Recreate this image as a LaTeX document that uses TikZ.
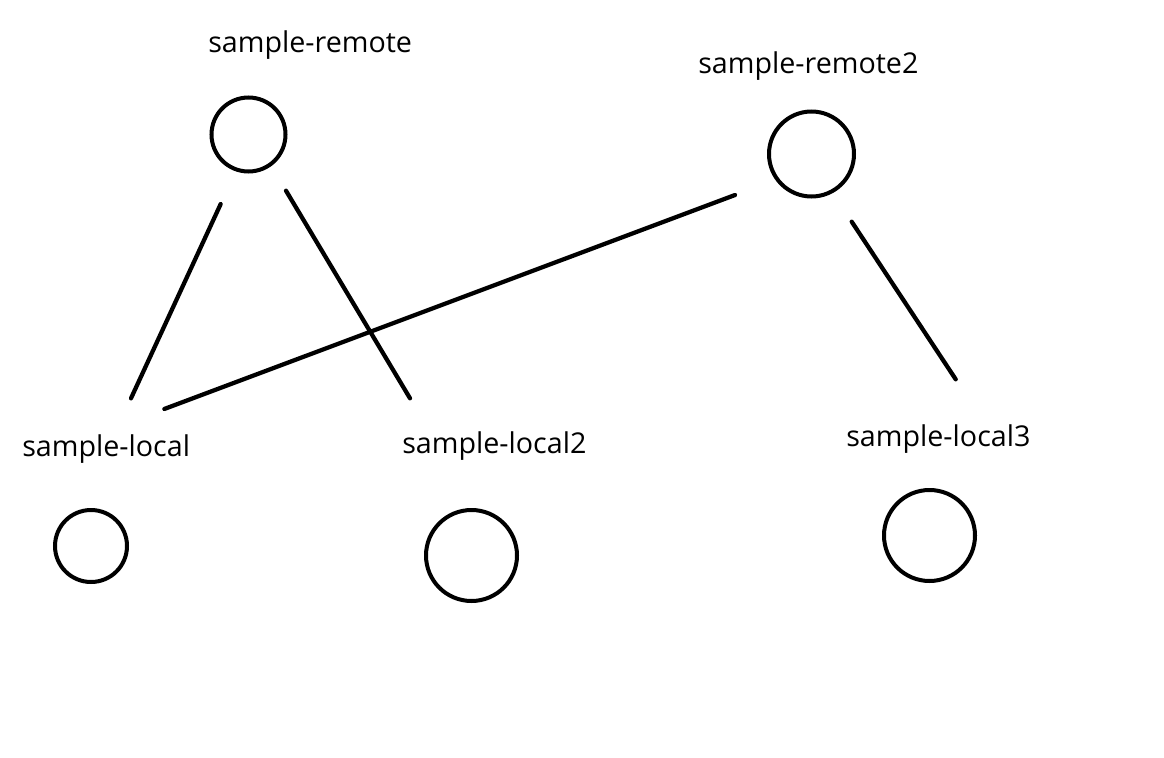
\documentclass[tikz,border=0pt]{standalone}
\usepackage{fontspec}
\setmainfont{Open Sans}
\usetikzlibrary{positioning}

\tikzset{
  host/.style={circle, draw, line width=3pt, inner sep=0pt},
  hostname/.style={anchor=base west, inner sep=0pt, font=\fontsize{21.5}{25}\selectfont},
  link/.style={line width=3.2pt, line cap=round},
}

\begin{document}
\begin{tikzpicture}[x=0.75pt, y=-0.75pt]
\useasboundingbox (0,0) rectangle (1164,757);
% Remote hosts
\node[host, minimum size=74pt*0.75] (remote) at (248.5,134.5) {};
\node[hostname] (remote-lbl) at (208,52) {sample-remote};
\node[host, minimum size=85pt*0.75] (remote2) at (811.5,154) {};
\node[hostname] (remote2-lbl) at (698,73) {sample-remote2};
% Local hosts
\node[host, minimum size=72pt*0.75] (local) at (91,546) {};
\node[hostname] (local-lbl) at (22,456) {sample-local};
\node[host, minimum size=91pt*0.75] (local2) at (471.5,555.5) {};
\node[hostname] (local2-lbl) at (402,453) {sample-local2};
\node[host, minimum size=91pt*0.75] (local3) at (929.5,535.5) {};
\node[hostname] (local3-lbl) at (846,446) {sample-local3};
% Line ends
\coordinate (remote-a) at (220.7,204);
\coordinate (local-a) at (131,398.3);
\coordinate (remote-b) at (286,190.7);
\coordinate (local2-b) at (410,398.3);
\coordinate (remote2-c) at (735,195);
\coordinate (local-c) at (164.3,409);
\coordinate (remote2-d) at (851.7,221.7);
\coordinate (local3-d) at (955.7,379.3);
% Links
\draw[link] (remote-a) -- (local-a);
\draw[link] (remote-b) -- (local2-b);
\draw[link] (remote2-c) -- (local-c);
\draw[link] (remote2-d) -- (local3-d);
\end{tikzpicture}
\end{document}
